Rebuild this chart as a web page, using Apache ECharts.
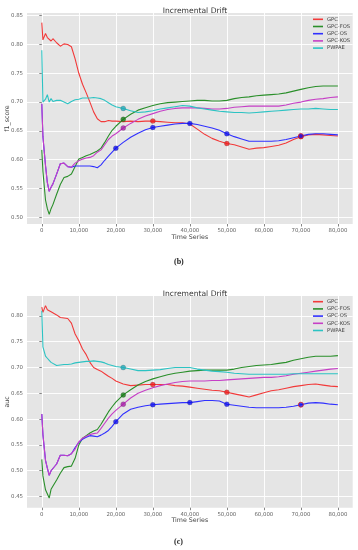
<!DOCTYPE html>
<html><head><meta charset="utf-8">
<script src="https://cdn.jsdelivr.net/npm/echarts@6/dist/echarts.min.js"></script>
<style>html,body{margin:0;padding:0;background:#fff}#c{width:358px;height:550px}</style>
</head><body><div id="c"></div>
<script>
// ---- data ----
const xs = [0,300,1000,1500,2000,2500,3000,
  4000,5000,6000,7000,8000,9000,10000,11000,12000,13000,14000,15000,16000,17000,18000,19000,20000,
  22000,24000,26000,28000,30000,32000,34000,36000,38000,40000,42000,44000,46000,48000,50000,52000,54000,56000,58000,60000,62000,64000,66000,68000,70000,72000,74000,76000,78000,80000];
const seriesNames = ['GPC','GPC-FOS','GPC-OS','GPC-KOS','PWPAE'];
const xTicks = [0,10000,20000,30000,40000,50000,60000,70000,80000];
const f1Ticks = [0.50,0.55,0.60,0.65,0.70,0.75,0.80,0.85];
const aucTicks = [0.45,0.50,0.55,0.60,0.65,0.70,0.75,0.80];

const f1GPC = [0.838,0.808,0.819,0.812,0.815,0.806,0.810,
  0.803,0.797,0.801,0.800,0.796,0.775,0.750,0.731,0.716,0.700,0.683,0.671,0.666,0.666,0.668,0.667,0.667,
  0.666,0.667,0.666,0.667,0.667,0.666,0.665,0.664,0.664,0.662,0.653,0.644,0.637,0.632,0.628,0.626,0.622,0.618,0.620,0.621,0.623,0.625,0.629,0.635,0.640,0.643,0.644,0.643,0.642,0.641];
const f1FOS = [0.617,0.580,0.530,0.515,0.505,0.515,0.522,
  0.540,0.557,0.569,0.571,0.575,0.588,0.601,0.604,0.607,0.609,0.612,0.615,0.620,0.630,0.641,0.651,0.658,
  0.670,0.679,0.686,0.690,0.694,0.697,0.699,0.700,0.701,0.702,0.703,0.703,0.702,0.702,0.703,0.706,0.708,0.709,0.711,0.712,0.713,0.714,0.716,0.719,0.722,0.725,0.727,0.728,0.728,0.728];
const f1OS = [0.697,0.640,0.590,0.560,0.545,0.552,0.558,
  0.575,0.593,0.594,0.588,0.587,0.589,0.589,0.589,0.589,0.589,0.588,0.586,0.591,0.599,0.606,0.613,0.620,
  0.630,0.639,0.646,0.652,0.656,0.658,0.660,0.662,0.663,0.663,0.661,0.658,0.655,0.651,0.645,0.640,0.636,0.632,0.632,0.632,0.632,0.633,0.635,0.638,0.641,0.644,0.645,0.645,0.644,0.643];
const f1KOS = [0.697,0.640,0.590,0.560,0.545,0.552,0.558,
  0.575,0.593,0.594,0.588,0.587,0.594,0.598,0.601,0.603,0.604,0.607,0.613,0.617,0.626,0.635,0.641,0.645,
  0.655,0.663,0.670,0.676,0.680,0.684,0.687,0.689,0.690,0.690,0.690,0.689,0.688,0.688,0.689,0.691,0.692,0.693,0.693,0.693,0.693,0.693,0.695,0.698,0.700,0.703,0.705,0.706,0.708,0.709];
const f1PW = [0.790,0.700,0.705,0.713,0.700,0.706,0.701,
  0.703,0.703,0.700,0.697,0.701,0.704,0.705,0.707,0.707,0.707,0.708,0.707,0.706,0.703,0.699,0.695,0.692,
  0.689,0.685,0.682,0.683,0.685,0.688,0.690,0.692,0.694,0.693,0.690,0.688,0.686,0.684,0.683,0.682,0.682,0.681,0.682,0.683,0.684,0.685,0.686,0.687,0.688,0.688,0.689,0.688,0.687,0.687];

const aucGPC = [0.817,0.807,0.820,0.812,0.815,0.808,0.810,
  0.802,0.797,0.796,0.795,0.786,0.765,0.752,0.736,0.725,0.710,0.700,0.696,0.693,0.688,0.683,0.679,0.674,
  0.668,0.665,0.666,0.667,0.667,0.667,0.667,0.665,0.664,0.662,0.660,0.658,0.656,0.655,0.652,0.649,0.646,0.643,0.647,0.651,0.655,0.657,0.660,0.663,0.665,0.667,0.668,0.666,0.664,0.663];
const aucFOS = [0.522,0.490,0.463,0.460,0.447,0.464,0.465,
  0.482,0.495,0.506,0.508,0.509,0.524,0.550,0.563,0.568,0.573,0.577,0.580,0.590,0.602,0.614,0.624,0.633,
  0.647,0.657,0.666,0.673,0.678,0.682,0.686,0.689,0.691,0.693,0.694,0.695,0.695,0.695,0.695,0.697,0.700,0.702,0.704,0.705,0.706,0.708,0.710,0.714,0.717,0.720,0.722,0.722,0.722,0.723];
const aucOS = [0.610,0.570,0.520,0.505,0.491,0.500,0.500,
  0.513,0.530,0.530,0.529,0.533,0.545,0.555,0.561,0.565,0.568,0.567,0.566,0.569,0.573,0.578,0.586,0.595,
  0.610,0.619,0.623,0.626,0.628,0.629,0.630,0.631,0.632,0.632,0.634,0.636,0.636,0.635,0.629,0.627,0.625,0.623,0.622,0.622,0.622,0.622,0.623,0.625,0.628,0.631,0.632,0.631,0.629,0.628];
const aucKOS = [0.610,0.570,0.520,0.505,0.491,0.500,0.500,
  0.513,0.530,0.530,0.529,0.533,0.542,0.556,0.563,0.567,0.570,0.572,0.573,0.582,0.592,0.602,0.610,0.617,
  0.629,0.641,0.650,0.656,0.661,0.665,0.668,0.671,0.673,0.674,0.674,0.674,0.675,0.675,0.676,0.677,0.678,0.679,0.680,0.681,0.681,0.682,0.684,0.687,0.689,0.691,0.693,0.695,0.697,0.698];
const aucPW = [0.810,0.740,0.722,0.718,0.714,0.710,0.707,
  0.704,0.705,0.706,0.706,0.707,0.709,0.710,0.711,0.712,0.712,0.713,0.712,0.711,0.709,0.706,0.704,0.702,
  0.700,0.697,0.694,0.694,0.695,0.696,0.698,0.700,0.700,0.700,0.697,0.695,0.693,0.692,0.691,0.689,0.688,0.687,0.687,0.687,0.687,0.687,0.687,0.688,0.688,0.688,0.688,0.688,0.688,0.688];

// marker x positions (values looked up on the curves)
const f1MarkGPC = [30000,50000,70000];
const f1MarkFOS = [22000];
const f1MarkOS = [20000,30000,40000,50000,70000];
const f1MarkKOS = [22000];
const f1MarkPW = [22000];
const aucMarkGPC = [30000,50000];
const aucMarkFOS = [22000];
const aucMarkOS = [20000,30000,40000,50000,70000];
const aucMarkKOS = [22000];
const aucMarkPW = [22000];

// ---- styles ----
const lineColors = ['#f23a3a','#2a8f2a','#3030ff','#c63fc6','#2cc3c3'];
const markColors = ['#ee1c1c','#157a15','#1010ee','#a81ea8','#1fa9b8'];
const font = 'DejaVu Sans';

const chart = echarts.init(document.getElementById('c'), null, {renderer:'canvas'});

function pad(arrs){
  let mn=Infinity,mx=-Infinity;
  arrs.forEach(a=>a.forEach(v=>{mn=Math.min(mn,v);mx=Math.max(mx,v);}));
  const r=mx-mn; return [mn-0.05*r, mx+0.05*r];
}
const f1Sets=[f1GPC,f1FOS,f1OS,f1KOS,f1PW];
const aucSets=[aucGPC,aucFOS,aucOS,aucKOS,aucPW];
const f1Marks=[f1MarkGPC,f1MarkFOS,f1MarkOS,f1MarkKOS,f1MarkPW];
const aucMarks=[aucMarkGPC,aucMarkFOS,aucMarkOS,aucMarkKOS,aucMarkPW];
const f1Ext=pad(f1Sets), aucExt=pad(aucSets);
const xMin = xTicks[0]-0.05*(xTicks[xTicks.length-1]-xTicks[0]);
const xMax = xTicks[xTicks.length-1]+0.05*(xTicks[xTicks.length-1]-xTicks[0]);

function xAxis(gi){
  return {type:'value', gridIndex:gi, min:xMin, max:xMax,
    name:'Time Series', nameLocation:'middle', nameGap:10, nameMoveOverlap:false,
    nameTextStyle:{fontFamily:font,fontSize:6.3,color:'#444'},
    axisLine:{show:false},
    axisTick:{show:true,length:2.5,lineStyle:{color:'#666',width:0.8},customValues:xTicks},
    axisLabel:{fontFamily:font,fontSize:5.4,color:'#666',margin:4,customValues:xTicks,
      formatter:v=>Math.round(v).toLocaleString('en-US')},
    splitLine:{show:true,lineStyle:{color:'#ffffff',width:0.9}}};
}
function yAxis(gi,ext,ticks,name){
  return {type:'value', gridIndex:gi, min:ext[0], max:ext[1],
    name:name, nameLocation:'middle', nameGap:17, nameMoveOverlap:false,
    nameTextStyle:{fontFamily:font,fontSize:6.3,color:'#444'},
    axisLine:{show:false},
    axisTick:{show:true,length:2.5,lineStyle:{color:'#666',width:0.8},customValues:ticks},
    axisLabel:{fontFamily:font,fontSize:5.4,color:'#666',margin:4,customValues:ticks,
      formatter:v=>v.toFixed(2)},
    splitLine:{show:true,lineStyle:{color:'#ffffff',width:0.9}}};
}

const series=[];
[[f1Sets,f1Marks,0],[aucSets,aucMarks,1]].forEach(([sets,marks,gi])=>{
  sets.forEach((ys,k)=>{
    series.push({type:'line',name:seriesNames[k],xAxisIndex:gi,yAxisIndex:gi,
      data:xs.map((x,i)=>[x,ys[i]]),showSymbol:false,symbol:'none',silent:true,
      lineStyle:{width:1.1,color:lineColors[k]},itemStyle:{color:lineColors[k]},z:2+k});
  });
  sets.forEach((ys,k)=>{
    series.push({type:'scatter',name:seriesNames[k]+' marks '+gi,xAxisIndex:gi,yAxisIndex:gi,
      data:marks[k].map(x=>{
        const item={value:[x,ys[xs.indexOf(x)]]};
        if(k===2 && x===70000) item.itemStyle={borderColor:'#e02020',borderWidth:1};
        return item;}),
      symbolSize:5,itemStyle:{color:markColors[k],borderColor:'rgba(40,40,40,0.5)',borderWidth:0.4},z:20+k,silent:true});
  });
});

function legend(top){
  return {data:seriesNames,orient:'vertical',left:313,top:top,icon:'rect',
    itemWidth:10,itemHeight:1.6,itemGap:0.2,selectedMode:false,
    textStyle:{fontFamily:font,fontSize:5.2,color:'#444',lineHeight:7,padding:[0,0,0,-1]},padding:0};
}

chart.setOption({
  animation:false,
  backgroundColor:'#ffffff',
  title:[
    {text:'Incremental Drift',left:190,top:2.5,textAlign:'center',textStyle:{fontFamily:font,fontSize:7.6,fontWeight:'normal',color:'#333'}},
    {text:'Incremental Drift',left:190,top:285.5,textAlign:'center',textStyle:{fontFamily:font,fontSize:7.6,fontWeight:'normal',color:'#333'}}
  ],
  legend:[legend(15.8),legend(298.2)],
  grid:[
    {left:27,right:5.3,top:13,height:211,show:true,backgroundColor:'#E5E5E5',borderWidth:0,containLabel:false,outerBoundsMode:'none'},
    {left:27,right:5.3,top:296,height:211.7,show:true,backgroundColor:'#E5E5E5',borderWidth:0,containLabel:false,outerBoundsMode:'none'}
  ],
  xAxis:[xAxis(0),xAxis(1)],
  yAxis:[yAxis(0,f1Ext,f1Ticks,'f1_score'),yAxis(1,aucExt,aucTicks,'auc')],
  series:series,
  graphic:[
    {type:'text',left:174,top:258,style:{text:'(b)',font:'bold 8px "Liberation Serif"',fill:'#222'}},
    {type:'text',left:174,top:538,style:{text:'(c)',font:'bold 8px "Liberation Serif"',fill:'#222'}}
  ]
});
</script></body></html>
